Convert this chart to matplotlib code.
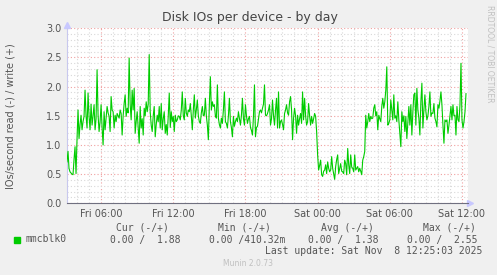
import numpy as np
import pandas as pd
import matplotlib
matplotlib.use("Agg")
import matplotlib.pyplot as plt
import matplotlib.dates as mdates

# 5-minute samples of the write IOs/s for mmcblk0 (read side is 0)
start = "2025-11-07 03:10"
write_ios = [
    0.71, 0.89, 0.60, 0.54, 0.52, 0.50, 0.49, 0.75, 0.97, 0.51, 1.10, 1.60,
    1.11, 1.35, 1.51, 1.26, 1.40, 1.49, 1.94, 1.50, 1.29, 1.89, 1.49, 1.26,
    1.70, 1.34, 1.50, 1.69, 1.26, 1.45, 2.29, 1.51, 1.23, 1.40, 1.69, 1.30,
    1.00, 1.57, 1.26, 1.45, 1.66, 1.55, 1.49, 1.23, 1.83, 1.60, 1.57, 1.29,
    1.51, 1.40, 1.54, 1.50, 1.46, 1.60, 1.54, 1.17, 1.50, 1.71, 1.86, 1.49,
    1.63, 1.55, 2.49, 1.70, 1.43, 1.94, 1.60, 1.97, 1.20, 1.40, 1.57, 1.30,
    1.03, 1.66, 1.29, 1.45, 1.17, 1.63, 1.50, 1.74, 1.57, 1.70, 2.55, 1.57,
    1.34, 1.23, 1.50, 1.66, 1.14, 1.35, 1.51, 1.40, 1.66, 1.29, 1.71, 1.26,
    1.45, 1.57, 1.20, 1.35, 1.17, 1.50, 1.89, 1.30, 1.57, 1.40, 1.49, 1.23,
    1.51, 1.40, 1.43, 1.50, 1.49, 1.43, 1.60, 1.91, 1.50, 1.43, 1.80, 1.55,
    1.49, 1.60, 1.57, 1.71, 1.50, 1.26, 1.60, 1.86, 1.46, 1.60, 1.77, 1.50,
    1.40, 1.37, 1.55, 1.66, 1.50, 1.51, 1.80, 1.50, 1.34, 1.09, 1.69, 2.17,
    1.60, 1.74, 1.66, 1.69, 1.50, 1.46, 2.03, 1.46, 1.35, 1.29, 1.46, 1.37,
    1.60, 1.91, 1.40, 1.37, 1.29, 1.50, 1.80, 1.40, 1.30, 1.14, 1.49, 1.32,
    1.40, 1.46, 1.40, 1.57, 1.45, 1.34, 1.51, 1.80, 1.45, 1.34, 1.69, 1.50,
    1.37, 1.45, 1.49, 1.30, 1.25, 1.17, 1.49, 2.03, 1.14, 1.30, 1.32, 1.45,
    1.57, 1.60, 1.55, 1.63, 1.70, 2.03, 1.51, 1.50, 1.54, 1.60, 1.69, 1.34,
    1.45, 1.77, 1.50, 1.34, 1.60, 1.80, 1.29, 1.91, 1.29, 1.40, 1.43, 1.35,
    1.26, 1.54, 1.60, 1.69, 1.55, 1.51, 1.74, 1.83, 1.60, 1.09, 1.46, 1.63,
    1.50, 1.20, 1.51, 1.34, 1.45, 1.54, 1.37, 1.91, 1.43, 1.80, 1.50, 1.34,
    1.40, 1.71, 1.50, 1.34, 1.49, 1.37, 1.45, 1.54, 1.49, 1.23, 0.83, 0.57,
    0.65, 0.74, 0.49, 0.46, 0.55, 0.57, 0.66, 0.51, 0.71, 0.60, 0.54, 0.57,
    0.80, 0.60, 0.51, 0.41, 0.63, 0.75, 0.83, 0.51, 0.60, 0.68, 0.55, 0.54,
    0.51, 0.74, 0.68, 0.49, 0.94, 0.66, 0.51, 0.83, 0.62, 0.60, 0.54, 0.83,
    0.57, 0.60, 0.63, 0.54, 0.60, 0.55, 0.49, 0.74, 0.80, 0.89, 1.51, 1.29,
    1.40, 1.54, 1.40, 1.49, 1.45, 1.46, 1.63, 1.69, 1.50, 1.57, 1.26, 1.51,
    1.45, 1.40, 1.66, 1.80, 1.63, 1.74, 1.94, 2.34, 1.34, 1.37, 1.43, 1.77,
    1.60, 1.43, 1.86, 1.46, 1.50, 1.40, 1.74, 1.43, 1.20, 0.97, 1.57, 1.40,
    1.50, 1.23, 1.49, 1.11, 1.40, 1.66, 1.34, 1.69, 1.17, 1.57, 1.86, 1.89,
    1.34, 1.97, 1.60, 1.46, 1.17, 1.74, 2.06, 1.29, 1.60, 1.86, 1.57, 1.43,
    1.50, 1.66, 1.91, 1.49, 1.55, 1.54, 1.71, 1.46, 1.40, 1.31, 1.69, 1.63,
    1.75, 1.91, 1.69, 1.34, 1.03, 1.43, 1.40, 1.43, 1.20, 1.34, 1.50, 1.66,
    1.43, 1.69, 1.50, 1.51, 1.17, 1.66, 1.43, 1.40, 1.69, 2.40, 1.43, 1.29,
    1.40, 1.57, 1.88,
]
times = pd.date_range(start, periods=len(write_ios), freq="5min")

legend_cols = ["Cur (-/+)", "Min (-/+)", "Avg (-/+)", "Max (-/+)"]
legend_vals = ["0.00 /  1.88", "0.00 /410.32m", "0.00 /  1.38", "0.00 /  2.55"]

BG = "#f0f0f0"
TXT = "#555555"

fig = plt.figure(figsize=(4.97, 2.75), dpi=100, facecolor=BG)
W, H = 497, 275
ax = fig.add_axes([67 / W, (H - 203.3) / H, 401 / W, 175 / H])
ax.set_facecolor("white")

ax.plot(times, write_ios, color="#00cc00", lw=0.8, zorder=3)

ax.set_xlim(pd.Timestamp("2025-11-07 03:10"), pd.Timestamp("2025-11-08 12:30"))
ax.set_ylim(0, 3.0)

ax.xaxis.set_major_locator(mdates.HourLocator(byhour=range(0, 24, 6)))
ax.xaxis.set_minor_locator(mdates.HourLocator())
ax.xaxis.set_major_formatter(mdates.DateFormatter("%a %H:%M"))
ax.yaxis.set_major_locator(plt.MultipleLocator(0.5))
ax.yaxis.set_minor_locator(plt.MultipleLocator(0.1))
ax.yaxis.set_major_formatter(plt.FormatStrFormatter("%.1f"))

ax.grid(which="minor", color="#d8d8d8", lw=0.8, ls=(0, (1, 2)), zorder=1)
ax.grid(which="major", color="#f0a0a0", lw=0.8, ls=(0, (1, 2)), zorder=2)

ax.tick_params(which="both", length=0, labelsize=7, colors=TXT, pad=4)
for s in ["top", "right"]:
    ax.spines[s].set_visible(False)
ax.spines["left"].set_color("#c8c8ee")
ax.spines["bottom"].set_color("#707080")
ax.spines["left"].set_linewidth(0.8)
ax.spines["bottom"].set_linewidth(0.8)
ax.plot(1.005, 0, ">", color="#c8c8ff", ms=4, transform=ax.transAxes, clip_on=False)
ax.plot(0, 1.02, "^", color="#c8c8ff", ms=4, transform=ax.transAxes, clip_on=False)

fig.text(11 / W, 1 - 116 / H, "IOs/second read (-) / write (+)", rotation=90,
         ha="center", va="center", fontsize=7, color=TXT)

fig.text(250 / W, 1 - 18 / H, "Disk IOs per device - by day", ha="center", va="center",
         fontsize=9, color="#444444")
fig.text(490 / W, 1 - 54 / H, "RRDTOOL / TOBI OETIKER", rotation=270, ha="center",
         va="center", fontsize=5.5, color="#c0c0c0")

mono = dict(family="DejaVu Sans Mono", fontsize=7, color=TXT, va="center")
col_x = [116, 218, 321, 423]
val_x = [110, 209, 308, 407]
for cx, label in zip(col_x, legend_cols):
    fig.text(cx / W, 1 - 228 / H, label, ha="left", **mono)
fig.patches.append(plt.Rectangle((14 / W, 1 - 242.5 / H), 6 / W, 6 / H,
                                 transform=fig.transFigure, color="#00cc00"))
fig.text(26 / W, 1 - 239.5 / H, "mmcblk0", ha="left", **mono)
for vx, val in zip(val_x, legend_vals):
    fig.text(vx / W, 1 - 239.5 / H, val, ha="left", **mono)
fig.text(482 / W, 1 - 251 / H, "Last update: Sat Nov  8 12:25:03 2025", ha="right", **mono)
fig.text(248 / W, 1 - 264 / H, "Munin 2.0.73", ha="center", va="center",
         fontsize=5.5, color="#c0c0c0")

fig.savefig("out.png", dpi=100, facecolor=BG)
